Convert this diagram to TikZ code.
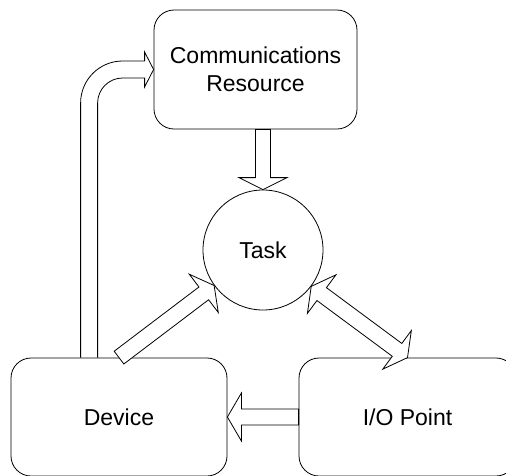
\documentclass[tikz,border=0pt]{standalone}
\usepackage{fontspec}
\setmainfont{Liberation Sans}
\usetikzlibrary{calc}
\tikzset{
  box/.style={draw, line width=0.8pt, rounded corners=20pt, inner sep=0pt, align=center,
    font=\fontsize{23}{28}\selectfont},
  roundnode/.style={draw, line width=0.8pt, circle, inner sep=0pt, minimum size=120pt,
    font=\fontsize{23}{28}\selectfont},
  blk/.style={draw, line width=0.8pt, fill=white, line join=miter},
  blkline/.style={draw, line width=0.8pt, line join=miter}
}
% single block arrow: tail, tip, shaft half width, head half width, head length
\newcommand{\blkarrow}[5]{%
  \path ($(#2)!#5!(#1)$) coordinate (ba);
  \draw[blk] ($(#1)!#3!90:(#2)$) -- ($(ba)!#3!90:(#2)$) -- ($(ba)!#4!90:(#2)$) -- (#2)
    -- ($(ba)!#4!-90:(#2)$) -- ($(ba)!#3!-90:(#2)$) -- ($(#1)!#3!-90:(#2)$) -- cycle;
}
% double block arrow
\newcommand{\dblkarrow}[5]{%
  \path ($(#2)!#5!(#1)$) coordinate (bb) ($(#1)!#5!(#2)$) coordinate (ba);
  \draw[blk] ($(ba)!#3!90:(#2)$) -- ($(bb)!#3!90:(#2)$) -- ($(bb)!#4!90:(#2)$) -- (#2)
    -- ($(bb)!#4!-90:(#2)$) -- ($(bb)!#3!-90:(#2)$) -- ($(ba)!#3!-90:(#2)$)
    -- ($(ba)!#4!-90:(#2)$) -- (#1) -- ($(ba)!#4!90:(#2)$) -- cycle;
}
\begin{document}
\begin{tikzpicture}[x=1pt, y=-1pt]
\useasboundingbox (0,0) rectangle (506,475);
\clip (0,0) rectangle (506,475);

\node[box, minimum width=203pt, minimum height=119pt] (comm) at (255.5,69.5) {Communications\\Resource};
\node[roundnode] (task) at (263,250) {Task};
\node[box, minimum width=216pt, minimum height=118pt] (device) at (119,417) {Device};
\node[box, minimum width=217pt, minimum height=118pt] (io) at (407.5,417) {I/O Point};

% Communications Resource -> Task
\coordinate (ct) at (task.north |- comm.south);
\blkarrow{ct}{task.north}{7.5pt}{24pt}{12pt}

% Device -> Task
\blkarrow{device.north}{task.216}{8pt}{24pt}{13pt}

% Task <-> I/O Point
\dblkarrow{task.-37}{io.north}{8pt}{24pt}{13pt}

% I/O Point -> Device
\blkarrow{io.west}{device.east}{8pt}{24pt}{14pt}

% Device -> Communications Resource (loop)
\coordinate (lt) at ($(device.north west)+(78.5,0)$);
\coordinate (lh) at (comm.west);
\coordinate (lk) at (lt |- lh);
\draw[blkline] ($(lt)+(-8.5,0)$) -- ($(lk)+(-8.5,33.5)$)
  .. controls ($(lk)+(-8.5,10.3)$) and ($(lk)+(10.3,-8.5)$) .. ($(lk)+(33.5,-8.5)$)
  -- ($(lh)+(-9,-8.5)$) -- ($(lh)+(-9,-17.5)$) -- (lh) -- ($(lh)+(-9,17.5)$)
  -- ($(lh)+(-9,8.5)$) -- ($(lk)+(33.5,8.5)$)
  .. controls ($(lk)+(19.7,8.5)$) and ($(lk)+(8.5,19.7)$) .. ($(lk)+(8.5,33.5)$)
  -- ($(lt)+(8.5,0)$);
\end{tikzpicture}
\end{document}
